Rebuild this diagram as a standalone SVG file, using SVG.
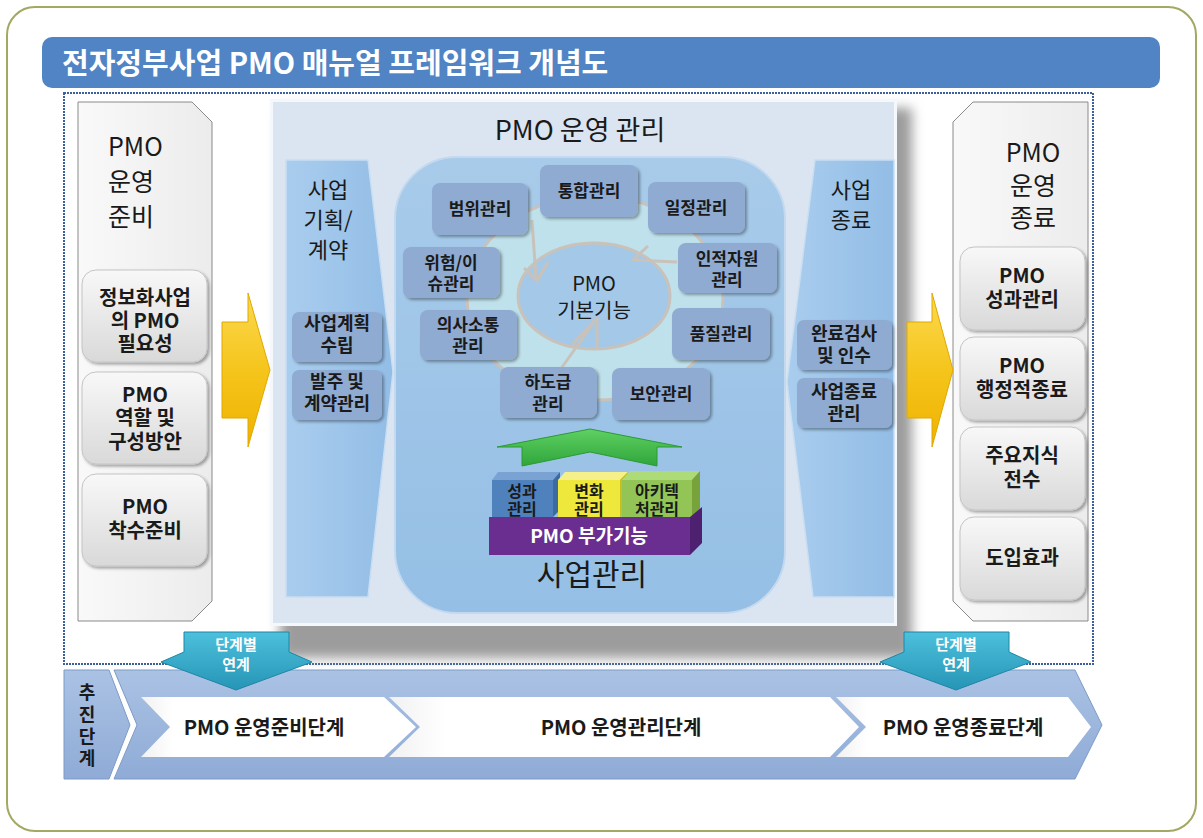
<svg xmlns="http://www.w3.org/2000/svg" width="1203" height="838" viewBox="0 0 1203 838">
<defs>
<style>
text{font-family:"Noto Sans CJK KR","Noto Sans",sans-serif;fill:#1a1a1a}
.c{text-anchor:middle}
.b{font-weight:bold}
.side{fill:url(#gSide);stroke:#8a8a8a;stroke-width:1}
.gbox{fill:url(#gBox);stroke:#c4c4c4;stroke-width:1;filter:url(#sh)}
.sbox{fill:#8fabd1;filter:url(#sh)}
.blk{fill:url(#gBlk);stroke:#c9def2;stroke-width:1.5}
.ring{stroke:#c9c2ba;stroke-width:3}
.notch{fill:none;stroke:#c9c2ba;stroke-width:3;stroke-linejoin:round}
.yel{fill:url(#gYel);stroke:#e0a800;stroke-width:1}
.teal{fill:url(#gTeal);stroke:#1d86a6;stroke-width:1}
.chev{fill:url(#gChev)}
.f15{font-size:15px}.f16{font-size:16px}.f17{font-size:17px}.f18{font-size:18px}.f19{font-size:19px}
.f20{font-size:20px}.f22{font-size:22px}.f25{font-size:25px}
</style>
<filter id="sh" x="-20%" y="-20%" width="140%" height="150%">
<feDropShadow dx="2" dy="2" stdDeviation="1.5" flood-color="#000" flood-opacity="0.35"/>
</filter>
<filter id="blur" x="-10%" y="-10%" width="120%" height="120%">
<feGaussianBlur stdDeviation="6"/>
</filter>
<linearGradient id="gSide" x1="0" y1="0" x2="1" y2="0">
<stop offset="0" stop-color="#f9f9f9"/><stop offset="1" stop-color="#ececec"/>
</linearGradient>
<linearGradient id="gBox" x1="0" y1="0" x2="0" y2="1">
<stop offset="0" stop-color="#f8f8f8"/><stop offset="1" stop-color="#d9d9d9"/>
</linearGradient>
<linearGradient id="gBlk" x1="0" y1="0" x2="1" y2="0">
<stop offset="0" stop-color="#a9cdee"/><stop offset="1" stop-color="#93bde6"/>
</linearGradient>
<linearGradient id="gCenter" x1="0" y1="0" x2="0" y2="1">
<stop offset="0" stop-color="#a8cbea"/><stop offset="1" stop-color="#95bfe5"/>
</linearGradient>
<linearGradient id="gYel" x1="0" y1="0" x2="0" y2="1">
<stop offset="0" stop-color="#fbd94f"/><stop offset="0.5" stop-color="#f5c51c"/><stop offset="1" stop-color="#efb200"/>
</linearGradient>
<linearGradient id="gTeal" x1="0" y1="0" x2="0" y2="1">
<stop offset="0" stop-color="#4cc0dc"/><stop offset="1" stop-color="#2795b6"/>
</linearGradient>
<linearGradient id="gGreen" x1="0" y1="0" x2="0" y2="1">
<stop offset="0" stop-color="#60d163"/><stop offset="1" stop-color="#2fa53a"/>
</linearGradient>
<linearGradient id="gBand" x1="0" y1="0" x2="0" y2="1">
<stop offset="0" stop-color="#aac2e4"/><stop offset="1" stop-color="#8fabd6"/>
</linearGradient>
<linearGradient id="gChev" x1="0" y1="0" x2="1" y2="0">
<stop offset="0" stop-color="#f1f1f1"/><stop offset="0.12" stop-color="#ffffff"/><stop offset="1" stop-color="#ffffff"/>
</linearGradient>
</defs>

<!-- outer frame and heading -->
<rect x="7" y="7" width="1189" height="824" rx="28" fill="#fff" stroke="#a3a862" stroke-width="2"/>
<rect x="42" y="37" width="1118" height="51" rx="10" fill="#5084c5"/>
<text x="62" y="74" font-size="29" font-weight="bold" style="fill:#fff">전자정부사업 PMO 매뉴얼 프레임워크 개념도</text>

<!-- dotted framework boundary -->
<rect x="64" y="93" width="1029" height="571" fill="none" stroke="#3c5f9e" stroke-width="2" stroke-dasharray="2,1"/>

<!-- PMO 운영 관리 panel -->
<g id="operation-panel">
<rect x="280" y="108" width="632" height="550" fill="#9c9c9c" filter="url(#blur)"/>
<rect x="270" y="99" width="627" height="527" fill="#dbe5f1"/>
<rect x="271.5" y="100.5" width="624" height="524" fill="none" stroke="#f4f8fc" stroke-width="3"/>
<text class="c" x="580" y="140" font-size="27">PMO 운영 관리</text>
</g>

<!-- 사업 기획/계약 column -->
<g id="plan-contract">
<polygon class="blk" points="286,160 368,160 393,372 368,597 286,597"/>
<text class="c f22" x="328" y="198">사업</text>
<text class="c f22" x="328" y="228">기획/</text>
<text class="c f22" x="328" y="258">계약</text>
<rect class="sbox" x="292" y="312" width="90" height="50" rx="7"/>
<text class="c b f18" x="337" y="330">사업계획</text>
<text class="c b f18" x="337" y="352">수립</text>
<rect class="sbox" x="292" y="370" width="90" height="50" rx="7"/>
<text class="c b f18" x="337" y="388">발주 및</text>
<text class="c b f18" x="337" y="410">계약관리</text>
</g>

<!-- 사업 종료 column -->
<g id="project-close">
<polygon class="blk" points="815,160 894,160 894,597 813,597 787,382"/>
<text class="c f22" x="851" y="198">사업</text>
<text class="c f22" x="851" y="228">종료</text>
<rect class="sbox" x="797" y="320" width="95" height="50" rx="7"/>
<text class="c b f18" x="844" y="340">완료검사</text>
<text class="c b f18" x="844" y="362">및 인수</text>
<rect class="sbox" x="797" y="378" width="95" height="50" rx="7"/>
<text class="c b f18" x="844" y="398">사업종료</text>
<text class="c b f18" x="844" y="420">관리</text>
</g>

<!-- 사업관리 core -->
<g id="project-mgmt">
<rect x="395" y="157" width="390" height="456" rx="62" fill="url(#gCenter)" stroke="#c3d9ef" stroke-width="2"/>
<ellipse class="ring" cx="595" cy="298" rx="128" ry="102" fill="#bfe1eb"/>
<ellipse class="ring" cx="594" cy="296" rx="76" ry="53" fill="#a4c8e8"/>
<polyline class="notch" points="532,220 536,278"/>
<polyline class="notch" points="524,268 537,281 548,262"/>
<polyline class="notch" points="648,246 633,260 677,262"/>
<polyline class="notch" points="597,318 597,350"/>
<polyline class="notch" points="572,345 597,318 560,370"/>
<text class="c f20" x="594" y="291">PMO</text>
<text class="c f20" x="594" y="318">기본기능</text>
</g>

<!-- 기본기능 knowledge areas -->
<g id="scope"><rect class="sbox" x="432" y="183" width="96" height="52" rx="8"/><text class="c b f17" x="480" y="215">범위관리</text></g>
<g id="integration"><rect class="sbox" x="540" y="165" width="98" height="52" rx="8"/><text class="c b f17" x="589" y="197">통합관리</text></g>
<g id="schedule"><rect class="sbox" x="648" y="182" width="97" height="51" rx="8"/><text class="c b f17" x="696" y="214">일정관리</text></g>
<g id="risk"><rect class="sbox" x="403" y="247" width="97" height="51" rx="8"/><text class="c b f17" x="451" y="269">위험/이</text><text class="c b f17" x="451" y="290">슈관리</text></g>
<g id="hr"><rect class="sbox" x="678" y="243" width="99" height="50" rx="8"/><text class="c b f17" x="727" y="265">인적자원</text><text class="c b f17" x="727" y="286">관리</text></g>
<g id="comm"><rect class="sbox" x="420" y="310" width="97" height="50" rx="8"/><text class="c b f17" x="468" y="331">의사소통</text><text class="c b f17" x="468" y="352">관리</text></g>
<g id="quality"><rect class="sbox" x="672" y="308" width="98" height="52" rx="8"/><text class="c b f17" x="721" y="340">품질관리</text></g>
<g id="subcontract"><rect class="sbox" x="500" y="367" width="97" height="51" rx="8"/><text class="c b f17" x="548" y="388">하도급</text><text class="c b f17" x="548" y="410">관리</text></g>
<g id="security"><rect class="sbox" x="612" y="368" width="98" height="52" rx="8"/><text class="c b f17" x="661" y="400">보안관리</text></g>

<!-- 부가기능 stack -->
<g id="addon">
<path d="M497,447 L590,429 L682,447 L657,447 L657,466 L590,452 L522,466 L522,447 Z" fill="url(#gGreen)" stroke="#2a9a35" stroke-width="1"/>
<polygon points="492,480 498,472 560,472 553,480" fill="#7aa2d2"/>
<polygon points="553,480 560,472 560,510 553,517" fill="#3d6aa0"/>
<rect x="492" y="480" width="61" height="37" fill="#4f81bd"/>
<polygon points="558,480 565,472 628,472 620,480" fill="#f6f08a"/>
<polygon points="620,480 628,472 628,510 620,517" fill="#c8c020"/>
<rect x="558" y="480" width="62" height="37" fill="#efe83c"/>
<polygon points="622,480 630,471 700,471 692,480" fill="#addb78"/>
<polygon points="692,480 700,471 700,509 692,517" fill="#77a33a"/>
<rect x="622" y="480" width="70" height="37" fill="#93c556"/>
<text class="c b f16" x="522" y="497">성과</text>
<text class="c b f16" x="522" y="515">관리</text>
<text class="c b f16" x="589" y="497">변화</text>
<text class="c b f16" x="589" y="515">관리</text>
<text class="c b f16" x="657" y="497">아키텍</text>
<text class="c b f16" x="657" y="515">처관리</text>
<polygon points="690,517 702,507 702,543 690,555" fill="#4e2170"/>
<rect x="489" y="517" width="201" height="38" fill="#6a2e91"/>
<text class="c b f19" x="589" y="543" style="fill:#fff">PMO 부가기능</text>
<text class="c" x="592" y="585" font-size="30">사업관리</text>
</g>

<!-- PMO 운영 준비 -->
<g id="prep">
<polygon class="side" points="78,102 192,102 212,122 212,601 192,621 78,621"/>
<text class="f25" x="108" y="156">PMO</text>
<text class="f25" x="108" y="191">운영</text>
<text class="f25" x="108" y="226">준비</text>
<rect class="gbox" x="82" y="270" width="125" height="92" rx="14"/>
<text class="c b f20" x="145" y="305">정보화사업</text>
<text class="c b f20" x="145" y="328">의 PMO</text>
<text class="c b f20" x="145" y="351">필요성</text>
<rect class="gbox" x="82" y="372" width="125" height="92" rx="14"/>
<text class="c b f20" x="145" y="402">PMO</text>
<text class="c b f20" x="145" y="425">역할 및</text>
<text class="c b f20" x="145" y="449">구성방안</text>
<rect class="gbox" x="82" y="474" width="125" height="92" rx="14"/>
<text class="c b f20" x="145" y="514">PMO</text>
<text class="c b f20" x="145" y="538">착수준비</text>
</g>

<!-- PMO 운영 종료 -->
<g id="close">
<polygon class="side" points="973,102 1088,102 1088,621 973,621 953,601 953,122"/>
<text class="c f25" x="1033" y="162">PMO</text>
<text class="c f25" x="1033" y="195">운영</text>
<text class="c f25" x="1033" y="227">종료</text>
<rect class="gbox" x="960" y="247" width="125" height="83" rx="14"/>
<text class="c b f20" x="1022" y="283">PMO</text>
<text class="c b f20" x="1022" y="307">성과관리</text>
<rect class="gbox" x="960" y="337" width="125" height="83" rx="14"/>
<text class="c b f20" x="1022" y="373">PMO</text>
<text class="c b f20" x="1022" y="397">행정적종료</text>
<rect class="gbox" x="960" y="427" width="125" height="83" rx="14"/>
<text class="c b f20" x="1022" y="463">주요지식</text>
<text class="c b f20" x="1022" y="487">전수</text>
<rect class="gbox" x="960" y="517" width="125" height="83" rx="14"/>
<text class="c b f20" x="1022" y="565">도입효과</text>
</g>

<!-- connectors -->
<g id="connectors">
<polygon class="yel" points="222,322 248,322 248,293 270,370 248,447 248,418 222,418"/>
<polygon class="yel" points="907,322 932,322 932,293 953,370 932,447 932,418 907,418"/>
</g>

<!-- 추진단계 band -->
<g id="stages">
<polygon points="64,670 109,670 130,725 109,779 64,779" fill="url(#gBand)" stroke="#7d9bc8" stroke-width="1"/>
<text class="c b f18" x="87" y="699">추</text>
<text class="c b f18" x="87" y="721">진</text>
<text class="c b f18" x="87" y="743">단</text>
<text class="c b f18" x="87" y="765">계</text>
<polygon points="114,670 1075,670 1102,725 1075,779 114,779 137,725" fill="url(#gBand)" stroke="#7d9bc8" stroke-width="1"/>
<polygon class="chev" points="141,697 384,697 416,727 384,757 141,757 170,727"/>
<polygon class="chev" points="389,697 830,697 859,727 830,757 389,757 420,727"/>
<polygon class="chev" points="836,697 1068,697 1091,727 1068,757 836,757 866,727"/>
<text class="c b f20" x="264" y="735">PMO 운영준비단계</text>
<text class="c b f20" x="621" y="735">PMO 운영관리단계</text>
<text class="c b f20" x="963" y="735">PMO 운영종료단계</text>
</g>

<!-- 단계별 연계 arrows -->
<g id="link-left">
<polygon class="teal" points="184,632 289,632 289,652 312,662 236,690 161,662 184,652"/>
<text class="c b f15" x="236" y="650" style="fill:#fff">단계별</text>
<text class="c b f15" x="236" y="670" style="fill:#fff">연계</text>
</g>
<g id="link-right">
<polygon class="teal" points="904,632 1009,632 1009,652 1031,662 956,690 880,662 904,652"/>
<text class="c b f15" x="956" y="650" style="fill:#fff">단계별</text>
<text class="c b f15" x="956" y="670" style="fill:#fff">연계</text>
</g>
</svg>
